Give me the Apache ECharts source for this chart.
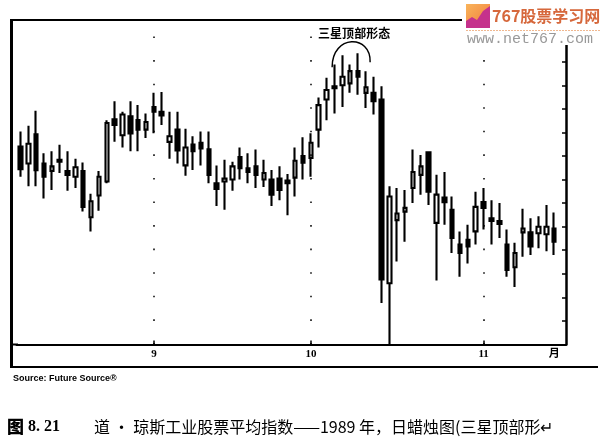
<!DOCTYPE html>
<html><head><meta charset="utf-8">
<script src="https://cdn.jsdelivr.net/npm/echarts@6/dist/echarts.min.js"></script>
<style>html,body{margin:0;padding:0;background:#fff}#c{width:600px;height:442px}</style>
</head><body><div id="c"></div>
<script>
// Trading days (Aug 9 – Nov 14, 1989) plus one empty slot on the right
const dates = [
 '8/9','8/10','8/11','8/14','8/15','8/16','8/17','8/18','8/21','8/22','8/23','8/24','8/25','8/28','8/29','8/30','8/31',
 '9/1','9/5','9/6','9/7','9/8','9/11','9/12','9/13','9/14','9/15','9/18','9/19','9/20','9/21','9/22','9/25','9/26','9/27','9/28','9/29',
 '10/2','10/3','10/4','10/5','10/6','10/9','10/10','10/11','10/12','10/13','10/16','10/17','10/18','10/19','10/20','10/23','10/24','10/25','10/26','10/27','10/30','10/31',
 '11/1','11/2','11/3','11/6','11/7','11/8','11/9','11/10','11/13','11/14','11/15'
];
const opens  = [2710,2692,2723,2692,2684,2696,2684,2678,2684,2635,2658,2673,2739,2722,2742,2738,2728,
                2752,2747,2715,2728,2690,2712,2714,2707,2671,2673,2675,2699,2687,2689,2675,2675,2676,2674,2677,2700,
                2698,2728,2760,2774,2775,2777,2790,2767,2767,2760,2565,2632,2641,2666,2680,2704,2629,2656,2643,2606,2611,2620,
                2651,2634,2631,2606,2582,2619,2619,2618,2617,2623];
const closes = [2686,2713,2685,2678,2689,2694,2680,2688,2646,2652,2678,2735,2733,2744,2724,2728,2736,
                2747,2743,2721,2706,2709,2705,2708,2680,2665,2676,2689,2687,2683,2680,2682,2659,2664,2671,2695,2693,
                2714,2754,2770,2772,2784,2790,2784,2773,2758,2569,2657,2639,2645,2683,2689,2662,2659,2651,2613,2597,2604,2646,
                2645,2631,2628,2579,2597,2623,2604,2625,2625,2609];
const lows   = [2678,2668,2668,2655,2664,2682,2663,2666,2641,2620,2642,2671,2715,2709,2705,2705,2719,
                2724,2733,2697,2692,2679,2685,2690,2671,2647,2643,2663,2675,2671,2666,2667,2647,2653,2637,2657,2675,
                2678,2709,2738,2745,2752,2767,2765,2751,2744,2544,2500,2588,2609,2650,2659,2648,2568,2627,2597,2572,2586,2606,
                2622,2606,2613,2572,2561,2593,2595,2602,2599,2595];
const highs  = [2726,2732,2748,2703,2705,2712,2705,2697,2693,2660,2684,2738,2758,2747,2758,2754,2745,
                2767,2768,2747,2747,2729,2721,2726,2726,2690,2696,2694,2709,2703,2707,2696,2685,2689,2681,2709,2720,
                2724,2762,2783,2797,2807,2797,2809,2790,2784,2774,2668,2666,2664,2707,2701,2705,2680,2683,2657,2620,2627,2662,
                2666,2653,2650,2622,2608,2644,2634,2636,2648,2640];
const monthLabels = {'9/1':'9','10/2':'10','11/1':'11','11/14':'月'};
const monthStarts = ['9/1','10/2','11/1'];
const patternDay = '10/9';
const patternLevel = 2790;
const yMin = 2500, yMax = 2850, yStep = 25;

const chart = echarts.init(document.getElementById('c'), null, {renderer:'canvas'});
const ohlc = dates.map((d,i)=> i < opens.length ? [opens[i], closes[i], lows[i], highs[i]] : '-');

chart.setOption({
  animation:false,
  backgroundColor:'#fff',
  grid:{left:16.5, right:34, top:14.6, bottom:97.5},
  xAxis:{
    type:'category', data:dates, boundaryGap:true,
    axisLine:{lineStyle:{color:'#000', width:2}},
    axisTick:{show:true, inside:true, alignWithLabel:true, length:4, lineStyle:{color:'#000', width:1.5},
      interval:(i,v)=> monthStarts.indexOf(v) >= 0},
    axisLabel:{interval:0, margin:4, color:'#000', fontSize:11, fontWeight:'bold',
      fontFamily:'"Liberation Serif","Noto Sans CJK SC",serif',
      formatter:v=> monthLabels[v] || ''},
    splitLine:{show:false}
  },
  yAxis:{
    type:'value', position:'right', min:yMin, max:yMax, interval:yStep, scale:false,
    axisLine:{show:true, lineStyle:{color:'#000', width:2.5}},
    axisTick:{show:true, inside:true, length:4, lineStyle:{color:'#000', width:1.5}},
    axisLabel:{show:false},
    splitLine:{show:false}
  },
  series:[{
    type:'candlestick', data:ohlc, barWidth:4,
    itemStyle:{color:'#fff', color0:'#000', borderColor:'#000', borderColor0:'#000', borderWidth:2.1},
    markLine:{
      silent:true, symbol:['none','none'], label:{show:false},
      lineStyle:{color:'#000', width:1.5, type:[1.6, 21.97]},
      data: monthStarts.map(m=>({xAxis:m}))
    }
  }]
});

const p = chart.convertToPixel({seriesIndex:0}, [patternDay, patternLevel]);
const ax = p[0], ay = p[1];

chart.setOption({
  graphic:[
    // frame
    {type:'line', shape:{x1:11.5,y1:19,x2:11.5,y2:368},  style:{stroke:'#000', lineWidth:3}, z:100},
    {type:'line', shape:{x1:10,y1:20,x2:463,y2:20}, style:{stroke:'#000', lineWidth:2}, z:100},
    {type:'line', shape:{x1:10,y1:344.5,x2:18,y2:344.5}, style:{stroke:'#000', lineWidth:2}, z:100},
    {type:'line', shape:{x1:10,y1:367,x2:598,y2:367}, style:{stroke:'#000', lineWidth:2}, z:100},
    // annotation arc + label
    {type:'bezierCurve', shape:{x1:ax-18,y1:ay-4,cpx1:ax-18,cpy1:ay-37,cpx2:ax+21,cpy2:ay-37,x2:ax+20,y2:ay-9},
      style:{stroke:'#000', lineWidth:1.5, fill:null}, z:100},
    {type:'text', x:ax+4, y:ay-38, style:{text:'三星顶部形态', fill:'#000', font:'bold 12px "Noto Sans CJK SC"',
      textAlign:'center', textVerticalAlign:'middle'}, z:100},
    // source
    {type:'text', x:13, y:379, style:{text:'Source: Future Source®', fill:'#000', font:'bold 9px "Liberation Sans", Arial',
      textVerticalAlign:'middle'}, z:100},
    // caption
    {type:'text', x:7, y:427, style:{text:'图', fill:'#000', font:'900 17px "Noto Sans CJK SC"', textVerticalAlign:'middle'}, z:100},
    {type:'text', x:28, y:427, style:{text:'8. 21', fill:'#000', font:'bold 16px "Liberation Serif"', textVerticalAlign:'middle'}, z:100},
    {type:'text', x:94, y:427, style:{text:'道 · 琼斯工业股票平均指数——1989 年，日蜡烛图(三星顶部形↵', fill:'#000',
      font:'16px "Noto Sans CJK SC"', textVerticalAlign:'middle'}, z:100},
    // logo block
    {type:'rect', shape:{x:462,y:0,width:138,height:45}, style:{fill:'#fff'}, z:200},
    {type:'rect', shape:{x:466,y:4,width:24,height:24},
      style:{fill:new echarts.graphic.LinearGradient(0,0,1,1,[{offset:0,color:'#f9b45a'},{offset:1,color:'#f07a3c'}])}, z:201},
    {type:'polygon', shape:{points:[[466,28],[466,21],[472,17],[477,20],[483,11],[490,6],[490,28]]},
      style:{fill:'#c5318c'}, z:202},
    {type:'text', x:492, y:16, style:{text:'767股票学习网', fill:'#d6683c', font:'bold 16px "Noto Sans CJK SC"',
      textVerticalAlign:'middle'}, z:203},
    {type:'line', shape:{x1:466,y1:30.5,x2:600,y2:30.5}, style:{stroke:'#f0b890', lineWidth:1, lineDash:[2,1]}, z:203},
    {type:'text', x:467, y:39, style:{text:'www.net767.com', fill:'#999', font:'15px "Liberation Mono"',
      textVerticalAlign:'middle'}, z:203}
  ]
});
</script></body></html>
